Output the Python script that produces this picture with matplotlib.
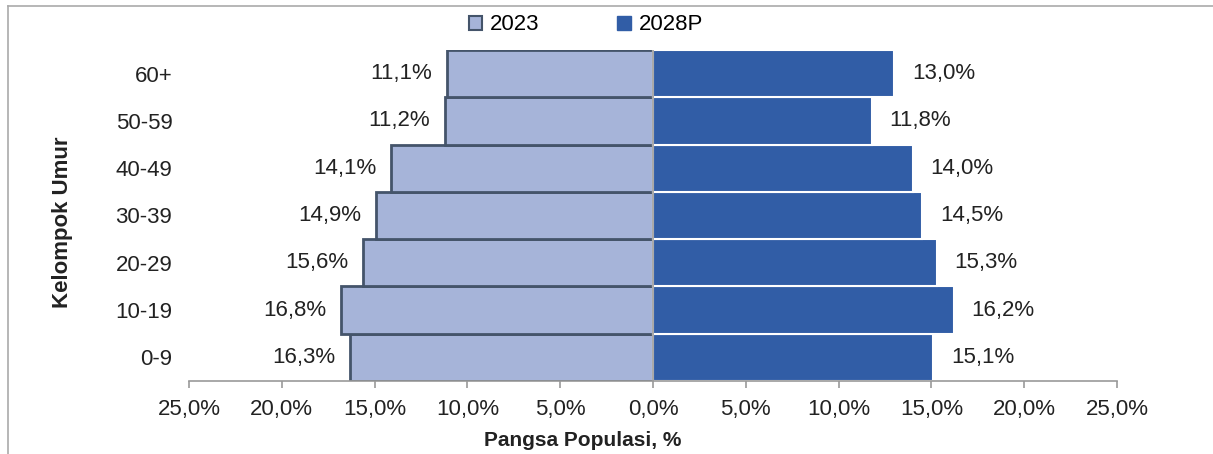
import matplotlib.pyplot as plt
from matplotlib.lines import Line2D
from matplotlib.patches import Patch

plt.rcParams['font.family'] = ['Liberation Sans', 'DejaVu Sans']

groups = ['0-9', '10-19', '20-29', '30-39', '40-49', '50-59', '60+']
share_2023 = [16.3, 16.8, 15.6, 14.9, 14.1, 11.2, 11.1]
share_2028 = [15.1, 16.2, 15.3, 14.5, 14.0, 11.8, 13.0]
xticks = [-25, -20, -15, -10, -5, 0, 5, 10, 15, 20, 25]

light = '#a6b4d9'
light_edge = '#44546a'
dark = '#315da6'
txt = '#222222'
fs = 16


def pct(v):
    return f'{abs(v):.1f}%'.replace('.', ',')


fig = plt.figure(figsize=(12.13, 4.54), dpi=100)
ax = fig.add_axes([0.1558, 0.1608, 0.7651, 0.7291])

y = range(len(groups))
ax.barh(y, [-v for v in share_2023], height=1.0, color=light,
        edgecolor=light_edge, linewidth=2.0, zorder=2)
ax.barh(y, share_2028, height=1.0, color=dark,
        edgecolor='white', linewidth=1.5, zorder=2)

for i, (a, b) in enumerate(zip(share_2023, share_2028)):
    ax.text(-a - 0.8, i, pct(a), ha='right', va='center', fontsize=fs, color=txt)
    ax.text(b + 0.95, i, pct(b), ha='left', va='center', fontsize=fs, color=txt)

ax.axvline(0, color='#999999', linewidth=1.2, zorder=3)

ax.set_xlim(-25, 25)
ax.set_ylim(-0.5, len(groups) - 0.5)
ax.set_xticks(xticks)
ax.set_xticklabels([pct(t) for t in xticks], fontsize=fs, color=txt)
ax.set_yticks(list(y))
ax.set_yticklabels(groups, fontsize=fs, color=txt)
ax.tick_params(axis='y', length=0, pad=12)
ax.tick_params(axis='x', length=5, color='#999999', width=1.2, pad=8, direction='out')

for side in ['top', 'right', 'left']:
    ax.spines[side].set_visible(False)
ax.spines['bottom'].set_color('#999999')
ax.spines['bottom'].set_linewidth(1.2)

fig.text(0.0515, 0.51, 'Kelompok Umur', rotation=90, ha='center', va='center',
         fontsize=16, fontweight='bold', color=txt)
fig.text(0.4805, 0.03, 'Pangsa Populasi, %', ha='center', va='center',
         fontsize=15, fontweight='bold', color=txt)

handles = [Patch(facecolor=light, edgecolor=light_edge, linewidth=1.5),
           Patch(facecolor=dark, edgecolor=dark)]
fig.legend(handles, ['2023', '2028P'], loc='center', bbox_to_anchor=(0.483, 0.945),
           ncol=2, frameon=False, fontsize=fs, handlelength=0.6, handleheight=0.6,
           handletextpad=0.35, columnspacing=3.5)

# outer frame: top and left edges
fig.add_artist(Line2D([0.0066, 1.0], [0.987, 0.987], color='#aaaaaa', linewidth=1.2))
fig.add_artist(Line2D([0.0066, 0.0066], [0.0, 0.987], color='#aaaaaa', linewidth=1.2))

fig.savefig('out.png', dpi=100)
